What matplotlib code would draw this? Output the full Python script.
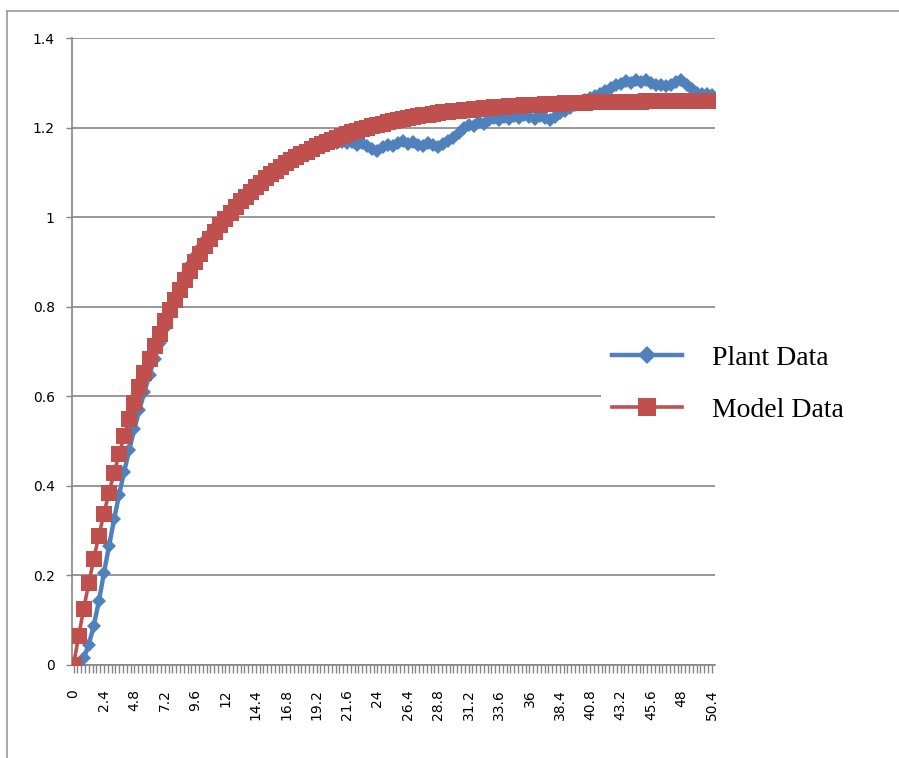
import numpy as np
import matplotlib
matplotlib.use('Agg')
import matplotlib.pyplot as plt
from matplotlib.lines import Line2D

plt.rcParams['font.family'] = ['DejaVu Sans']
plt.rcParams['xtick.direction'] = 'out'
plt.rcParams['ytick.direction'] = 'out'

# time axis, one sample every 0.4
time = np.round(np.arange(127) * 0.4, 1)

plant = [0.000, 0.000, 0.015, 0.045, 0.088, 0.142, 0.205, 0.265, 0.325, 0.380,
         0.432, 0.480, 0.527, 0.570, 0.610, 0.648, 0.684, 0.718, 0.752, 0.784,
         0.815, 0.843, 0.870, 0.894, 0.914, 0.932, 0.948, 0.963, 0.977, 0.990,
         1.002, 1.014, 1.025, 1.036, 1.046, 1.056, 1.066, 1.076, 1.086, 1.095,
         1.103, 1.111, 1.118, 1.126, 1.133, 1.139, 1.145, 1.151, 1.156, 1.160,
         1.163, 1.165, 1.166, 1.168, 1.165, 1.168, 1.162, 1.166, 1.158, 1.152,
         1.148, 1.156, 1.162, 1.158, 1.166, 1.170, 1.164, 1.168, 1.162, 1.158,
         1.166, 1.160, 1.156, 1.164, 1.170, 1.176, 1.188, 1.198, 1.206, 1.204,
         1.212, 1.208, 1.216, 1.222, 1.218, 1.224, 1.220, 1.226, 1.222, 1.228,
         1.224, 1.220, 1.226, 1.222, 1.218, 1.224, 1.232, 1.238, 1.244, 1.250,
         1.256, 1.262, 1.266, 1.270, 1.276, 1.282, 1.288, 1.294, 1.298, 1.304,
         1.300, 1.306, 1.302, 1.306, 1.300, 1.294, 1.296, 1.292, 1.296, 1.302,
         1.306, 1.296, 1.286, 1.278, 1.276, 1.274, 1.272]

model = [0.000, 0.064, 0.125, 0.182, 0.237, 0.289, 0.338, 0.385, 0.429, 0.471,
         0.511, 0.549, 0.585, 0.620, 0.652, 0.683, 0.712, 0.740, 0.767, 0.792,
         0.816, 0.838, 0.860, 0.880, 0.899, 0.918, 0.935, 0.952, 0.967, 0.982,
         0.996, 1.010, 1.023, 1.035, 1.046, 1.057, 1.068, 1.077, 1.087, 1.096,
         1.104, 1.112, 1.120, 1.127, 1.134, 1.140, 1.146, 1.152, 1.158, 1.163,
         1.168, 1.173, 1.177, 1.182, 1.186, 1.190, 1.193, 1.197, 1.200, 1.203,
         1.206, 1.209, 1.212, 1.214, 1.217, 1.219, 1.221, 1.223, 1.225, 1.227,
         1.229, 1.230, 1.232, 1.234, 1.235, 1.236, 1.238, 1.239, 1.240, 1.241,
         1.242, 1.243, 1.244, 1.245, 1.246, 1.247, 1.248, 1.248, 1.249, 1.250,
         1.250, 1.251, 1.251, 1.252, 1.252, 1.253, 1.253, 1.254, 1.254, 1.255,
         1.255, 1.255, 1.256, 1.256, 1.256, 1.257, 1.257, 1.257, 1.258, 1.258,
         1.258, 1.258, 1.258, 1.259, 1.259, 1.259, 1.259, 1.259, 1.259, 1.260,
         1.260, 1.260, 1.260, 1.260, 1.260, 1.260, 1.260]

x_labels = np.round(np.arange(0, 50.41, 2.4), 1)
y_ticks = [0, 0.2, 0.4, 0.6, 0.8, 1, 1.2, 1.4]

blue = '#4F81BD'
red = '#C0504D'
grid_gray = '#868686'

fig = plt.figure(figsize=(8.99, 7.58), dpi=100)
ax = fig.add_axes([72 / 899, 93 / 758, 643 / 899, 627 / 758])

ax.plot(time, plant, color=blue, lw=3.2, marker='D', markersize=7,
        markeredgewidth=0, label='Plant Data', zorder=3)
ax.plot(time, model, color=red, lw=2.6, marker='s', markersize=11.5,
        markeredgewidth=0, label='Model Data', zorder=4)

ax.set_xlim(-0.12, 50.65)
ax.set_ylim(0, 1.4)

ax.set_yticks(y_ticks)
ax.set_yticklabels([f'{v:g}' for v in y_ticks], fontsize=10)
ax.set_xticks(x_labels)
ax.set_xticklabels([f'{v:g}' for v in x_labels], rotation=90, fontsize=10)
ax.set_xticks(np.round(np.arange(0, 50.5, 0.3), 1), minor=True)

ax.tick_params(axis='y', length=4.5, width=1, color=grid_gray, pad=8)
ax.tick_params(axis='x', which='both', length=5.5, width=1, color=grid_gray, pad=12)

ax.grid(axis='y', color=grid_gray, lw=1.2)
ax.set_axisbelow(True)
for side in ['top', 'right']:
    ax.spines[side].set_visible(False)
for side in ['left', 'bottom']:
    ax.spines[side].set_color(grid_gray)
    ax.spines[side].set_linewidth(1.2)

leg = ax.legend(loc='center left', bbox_to_anchor=(601 / 899, 0.493),
                bbox_transform=fig.transFigure, frameon=True, fancybox=False,
                edgecolor='none', facecolor='white', framealpha=1,
                prop={'family': 'Liberation Serif', 'size': 20},
                handlelength=2.5, handletextpad=1.1, labelspacing=0.95,
                borderpad=0.4, borderaxespad=0, numpoints=1)
leg.legend_handles[0].set_markersize(9)
leg.legend_handles[1].set_markersize(13)
leg.set_zorder(10)

# chart area border
fig.add_artist(Line2D([7 / 899, 7 / 899], [0, 1 - 11 / 758], color='#999999', lw=1.2))
fig.add_artist(Line2D([7 / 899, 1], [1 - 11 / 758, 1 - 11 / 758], color='#999999', lw=1.2))

plt.savefig('out.png', dpi=100)
plt.close()
